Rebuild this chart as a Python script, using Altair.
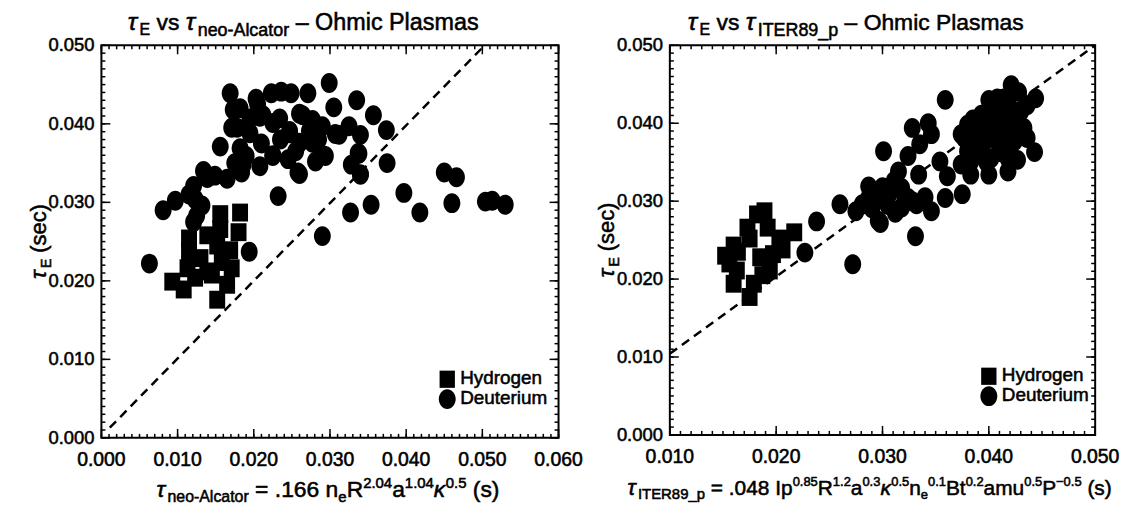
import altair as alt
import pandas as pd
import numpy as np

FONT = "Liberation Sans"

# ---------------- data (milliseconds) ----------------
# Left panel: x = tau_neo-Alcator, y = tau_E
LH_X = [9.3, 10.8, 15.2, 11.5, 11.5, 11.3, 13.0, 13.9, 13.9, 15.6, 15.6, 15.2, 15.8, 16.5, 17.1, 16.9, 18.2, 18.0, 14.5, 12.3]
LH_Y = [19.9, 18.9, 17.6, 25.4, 23.7, 21.6, 22.9, 25.8, 21.2, 28.5, 26.6, 24.5, 22.4, 19.5, 21.6, 23.9, 28.7, 26.2, 20.8, 20.4]

LD_X = [6.3, 29.0, 23.2, 32.7, 35.4, 39.7, 41.8, 45.0, 46.6, 46.0, 50.4, 51.3, 53.0, 37.5, 29.9, 30.5,
        33.5, 35.7, 37.4, 34.0, 32.8, 33.7, 32.5, 29.0, 29.4, 27.1, 25.8, 19.4, 8.1, 9.7, 12.1, 13.4,
        14.9, 15.6, 16.9, 17.1, 18.2, 18.4, 20.3, 22.3, 23.6, 24.9, 20.8, 22.5, 24.7, 26.0, 26.0, 27.7,
        27.7, 20.8, 19.0, 22.5, 24.5, 19.5, 12.3, 12.5, 13.2, 12.1, 17.5, 17.3, 17.8, 19.5, 21.2, 23.4,
        26.4, 24.7, 27.3, 31.2, 18.2, 18.6, 22.5, 26.0, 28.1, 29.0, 13.9, 30.7, 34.0, 33.8, 34.0, 28.5,
        21.0, 23.5, 25.5, 20.5, 16.5, 11.5]
LD_Y = [22.2, 25.7, 30.8, 28.7, 29.7, 31.2, 28.7, 33.8, 33.2, 29.9, 30.1, 30.2, 29.7, 35.0, 45.2, 42.1,
        43.0, 41.1, 39.2, 33.6, 34.8, 36.3, 39.7, 39.7, 35.9, 43.9, 33.8, 23.7, 29.0, 30.2, 32.1, 34.0,
        33.4, 37.1, 43.9, 39.5, 42.0, 33.8, 43.2, 43.9, 44.1, 43.9, 40.9, 40.1, 38.8, 41.3, 37.6, 37.6,
        40.5, 34.6, 35.9, 35.9, 35.5, 38.8, 30.4, 28.3, 29.6, 27.5, 35.0, 41.8, 39.5, 40.7, 41.1, 40.7,
        41.1, 39.1, 39.1, 38.6, 36.9, 34.8, 36.0, 33.6, 35.2, 36.0, 33.1, 38.7, 38.6, 36.2, 33.5, 38.0,
        37.5, 38.0, 36.5, 42.5, 33.0, 31.0]

# Right panel: x = tau_ITER89_p, y = tau_E
RH_X = [15.2, 16.0, 16.3, 16.0, 17.5, 18.2, 18.9, 21.7, 20.3, 17.5, 19.4, 19.7, 18.5, 17.3, 19.2, 17.9, 15.6, 16.4, 20.6, 18.7]
RH_Y = [23.0, 24.3, 21.1, 19.4, 17.7, 28.3, 28.7, 26.0, 25.2, 25.2, 21.1, 23.2, 22.8, 26.6, 26.6, 19.4, 22.0, 23.5, 23.8, 20.5]

RD_X = [22.7, 23.8, 26.0, 27.2, 27.5, 28.7, 30.1, 29.8, 29.0, 33.1, 31.5, 31.3, 32.4, 32.8, 34.3, 34.6,
        33.5, 33.4, 32.4, 33.2, 34.6, 35.9, 35.9, 35.4, 36.1, 37.5, 37.4, 38.0, 37.4, 38.3, 40.0, 41.8,
        44.3, 44.4, 43.6, 42.1, 40.8, 39.3, 39.0, 40.8, 42.4, 43.3, 42.4, 40.8, 39.3, 40.2, 38.0, 41.8,
        39.9, 41.8, 41.4, 42.8, 37.7, 43.6, 28.1, 28.7, 29.7, 30.6, 31.1, 31.8, 32.1, 29.6, 31.2, 32.8,
        38.3, 42.7, 39.9, 43.0, 41.0, 40.5, 41.5, 39.0, 42.0, 38.5,
        39.5, 40.3, 41.2, 41.0, 39.8, 40.5, 41.8, 42.0, 39.0, 38.6, 42.5, 40.0, 30.5, 31.8, 30.0, 34.0]
RD_Y = [23.4, 27.4, 29.6, 21.9, 28.7, 31.9, 36.4, 27.2, 29.1, 25.5, 33.8, 28.7, 35.8, 39.4, 40.0, 38.6,
        37.3, 33.4, 30.4, 29.6, 28.7, 30.4, 43.0, 35.1, 33.2, 30.9, 38.6, 39.8, 34.7, 33.4, 33.4, 33.8,
        36.3, 43.2, 42.3, 44.9, 43.2, 41.1, 38.5, 40.6, 41.5, 39.4, 37.7, 37.7, 36.4, 35.5, 36.4, 35.5,
        39.4, 39.8, 43.2, 44.0, 38.1, 38.1, 29.6, 30.4, 30.4, 30.9, 32.6, 31.7, 30.4, 27.5, 28.5, 30.0,
        35.1, 35.3, 41.5, 41.5, 42.0, 39.0, 37.0, 37.5, 38.5, 40.5,
        37.5, 38.3, 38.8, 36.3, 35.0, 41.8, 42.5, 40.5, 40.5, 37.2, 39.0, 43.0, 29.5, 29.2, 31.8, 30.5]

# dashed reference lines (tau_E = tau_scaling), end points in ms
LLINE_X = [1.1, 50.0]
LLINE_Y = [1.3, 49.7]
RLINE_X = [10.0, 50.0]
RLINE_Y = [10.4, 50.0]

LEFT_X_TICKS = [0.000, 0.010, 0.020, 0.030, 0.040, 0.050, 0.060]
RIGHT_X_TICKS = [0.010, 0.020, 0.030, 0.040, 0.050]
Y_TICKS = [0.000, 0.010, 0.020, 0.030, 0.040, 0.050]

SERIES = ["Hydrogen", "Deuterium"]

# ---------------- helpers ----------------
ELLIPSE = "M-0.85,0A0.85,1,0,1,0,0.85,0A0.85,1,0,1,0,-0.85,0Z"
SQUARE = "M-0.89,-1L0.89,-1L0.89,1L-0.89,1Z"
TXT = dict(font=FONT, color="black", stroke="black", strokeWidth=0.55)

# Helvetica advance widths (per 1000 em)
REG = {' ': 278, '.': 278, '-': 333, '=': 584, '(': 333, ')': 333, '_': 556, '–': 556, '−': 584,
       'a': 556, 'b': 556, 'c': 500, 'd': 556, 'e': 556, 'g': 556, 'h': 556, 'i': 222, 'l': 222,
       'm': 833, 'n': 556, 'o': 556, 'p': 556, 'r': 333, 's': 500, 't': 278, 'u': 556, 'v': 500,
       'y': 500, 'A': 667, 'B': 667, 'D': 722, 'E': 667, 'H': 722, 'I': 278, 'O': 778, 'P': 667,
       'R': 722, 'T': 611, 'τ': 480, 'κ': 520}


def tw(s, size):
    return sum(REG.get(c, 556) for c in s) * size / 1000.0


DUMMY = pd.DataFrame({"d": [0]})


def rich(segs, x0, y0, anchor="start", angle=0):
    total = sum(tw(t, s) for t, s, _, _ in segs)
    off = -total / 2 if anchor == "middle" else 0.0
    out = []
    for t, s, shift, st in segs:
        lead = len(t) - len(t.lstrip())
        o = off + tw(t[:lead], s)
        if angle == 0:
            px, py = x0 + o, y0 + shift
        else:
            px, py = x0 + shift, y0 - o
        out.append(
            alt.Chart(DUMMY).mark_text(
                text=t.strip(), fontSize=s,
                fontStyle="italic" if st == "i" else "normal",
                align="left", baseline="alphabetic", angle=angle, **TXT,
            ).encode(x=alt.value(px), y=alt.value(py))
        )
        off += tw(t, s)
    return out


def panel(hx, hy, dx, dy, lx, ly, xdom, xticks, W, H, title, title_cx, xtitle, xtitle_cx, legend):
    xs = alt.Scale(domain=xdom, nice=False, zero=False)
    ys = alt.Scale(domain=[0.0, 0.05], nice=False, zero=False)

    def X(f):
        return alt.X(f, type="quantitative", scale=xs, axis=None)

    def Y(f):
        return alt.Y(f, type="quantitative", scale=ys, axis=None)

    hyd = pd.DataFrame({"x": np.array(hx) / 1000, "y": np.array(hy) / 1000, "s": SERIES[0]})
    deu = pd.DataFrame({"x": np.array(dx) / 1000, "y": np.array(dy) / 1000, "s": SERIES[1]})
    line = pd.DataFrame({"x": np.array(lx) / 1000, "y": np.array(ly) / 1000})

    layers = []
    layers.append(alt.Chart(deu).mark_point(shape=ELLIPSE, size=400, filled=True, color="black",
                                            opacity=1, strokeWidth=0).encode(x=X("x"), y=Y("y")))
    layers.append(alt.Chart(hyd).mark_point(shape=SQUARE, size=324, filled=True, color="black",
                                            opacity=1, strokeWidth=0).encode(x=X("x"), y=Y("y")))
    layers.append(alt.Chart(line).mark_line(color="black", strokeWidth=2.5, strokeDash=[9, 6])
                  .encode(x=X("x"), y=Y("y")))

    # frame ticks (inward), major every 0.010 and minor every 0.001
    xmaj = pd.DataFrame({"v": xticks})
    xmin = pd.DataFrame({"v": np.round(np.arange(xdom[0], xdom[1] + 1e-9, 0.001), 4)})
    ymaj = pd.DataFrame({"v": Y_TICKS})
    ymin = pd.DataFrame({"v": np.round(np.arange(0, 0.05 + 1e-9, 0.001), 4)})
    for df, L in ((xmaj, 9), (xmin, 4)):
        layers.append(alt.Chart(df).mark_rule(color="black", strokeWidth=1.5)
                      .encode(x=X("v"), y=alt.value(H), y2=alt.value(H - L)))
        layers.append(alt.Chart(df).mark_rule(color="black", strokeWidth=1.5)
                      .encode(x=X("v"), y=alt.value(0), y2=alt.value(L)))
    for df, L in ((ymaj, 9), (ymin, 4)):
        layers.append(alt.Chart(df).mark_rule(color="black", strokeWidth=1.5)
                      .encode(y=Y("v"), x=alt.value(0), x2=alt.value(L)))
        layers.append(alt.Chart(df).mark_rule(color="black", strokeWidth=1.5)
                      .encode(y=Y("v"), x=alt.value(W), x2=alt.value(W - L)))

    # tick labels
    layers.append(alt.Chart(xmaj).mark_text(fontSize=19.5, align="center", baseline="top", **TXT)
                  .encode(x=X("v"), y=alt.value(H + 13), text=alt.Text("v:Q", format=".3f")))
    layers.append(alt.Chart(ymaj).mark_text(fontSize=18.5, align="right", baseline="middle", **TXT)
                  .encode(y=Y("v"), x=alt.value(-7), text=alt.Text("v:Q", format=".3f")))

    # legend
    lx0, ly0 = legend
    layers.append(alt.Chart(DUMMY).mark_point(shape=SQUARE, size=300, filled=True, color="black",
                                              opacity=1, strokeWidth=0)
                  .encode(x=alt.value(lx0), y=alt.value(ly0)))
    layers.append(alt.Chart(DUMMY).mark_point(shape=ELLIPSE, size=400, filled=True, color="black",
                                              opacity=1, strokeWidth=0)
                  .encode(x=alt.value(lx0), y=alt.value(ly0 + 20)))
    for i, name in enumerate(SERIES):
        layers.append(alt.Chart(DUMMY).mark_text(text=name, fontSize=19, align="left",
                                                 baseline="middle", **TXT)
                      .encode(x=alt.value(lx0 + 13), y=alt.value(ly0 - 1 + 20 * i)))

    # titles
    layers += rich(title, title_cx, -15, anchor="middle")
    layers += rich(xtitle, xtitle_cx, H + 60, anchor="middle")
    layers += rich([("τ", 23, 0, "i"), ("E", 14, 5, "n"), (" (sec)", 22, 0, "n")], -56, H / 2,
                   anchor="middle", angle=270)

    return alt.layer(*layers).properties(width=W, height=H)


LEFT_TITLE = [("τ", 25, 0, "i"), ("E", 16, 5, "n"), (" vs ", 23, 0, "n"), ("τ", 25, 0, "i"),
              ("neo-Alcator", 18, 6, "n"), (" – Ohmic Plasmas", 23.5, 0, "n")]
RIGHT_TITLE = [("τ", 25, 0, "i"), ("E", 16, 5, "n"), (" vs ", 23, 0, "n"), ("τ", 25, 0, "i"),
               ("ITER89_p", 18, 6, "n"), (" – Ohmic Plasmas", 23, 0, "n")]
LEFT_XTITLE = [("τ", 23, 0, "i"), ("neo-Alcator", 16, 5, "n"), (" = .166 n", 23, 0, "n"),
               ("e", 15, 5, "n"), ("R", 23, 0, "n"), ("2.04", 15, -10, "n"), ("a", 23, 0, "n"),
               ("1.04", 15, -10, "n"), ("κ", 23, 0, "i"), ("0.5", 15, -10, "n"), (" (s)", 23, 0, "n")]
RIGHT_XTITLE = [("τ", 22, 0, "i"), ("ITER89_p", 15, 5, "n"), (" = .048 Ip", 21, 0, "n"),
                ("0.85", 13, -9, "n"), ("R", 21, 0, "n"), ("1.2", 13, -9, "n"), ("a", 21, 0, "n"),
                ("0.3", 13, -9, "n"), ("κ", 21, 0, "i"), ("0.5", 13, -9, "n"), ("n", 21, 0, "n"),
                ("e", 13, 5, "n"), ("0.1", 13, -9, "n"), ("Bt", 21, 0, "n"), ("0.2", 13, -9, "n"),
                ("amu", 21, 0, "n"), ("0.5", 13, -9, "n"), ("P", 21, 0, "n"), ("−0.5", 13, -9, "n"),
                (" (s)", 21, 0, "n")]

left = panel(LH_X, LH_Y, LD_X, LD_Y, LLINE_X, LLINE_Y, [0.0, 0.06], LEFT_X_TICKS, 460, 395,
             LEFT_TITLE, 203, LEFT_XTITLE, 228, (348, 336))
right = panel(RH_X, RH_Y, RD_X, RD_Y, RLINE_X, RLINE_Y, [0.01, 0.05], RIGHT_X_TICKS, 428, 392,
              RIGHT_TITLE, 187, RIGHT_XTITLE, 201, (321, 333))

chart = alt.hconcat(left, right, spacing=112, bounds="flush").configure_view(
    stroke="black", strokeWidth=2
).properties(
    padding={"left": 18, "top": 0, "right": 0, "bottom": 0},
    background="white",
)

chart.save("out.html", embed_options={"renderer": "svg", "actions": False})
